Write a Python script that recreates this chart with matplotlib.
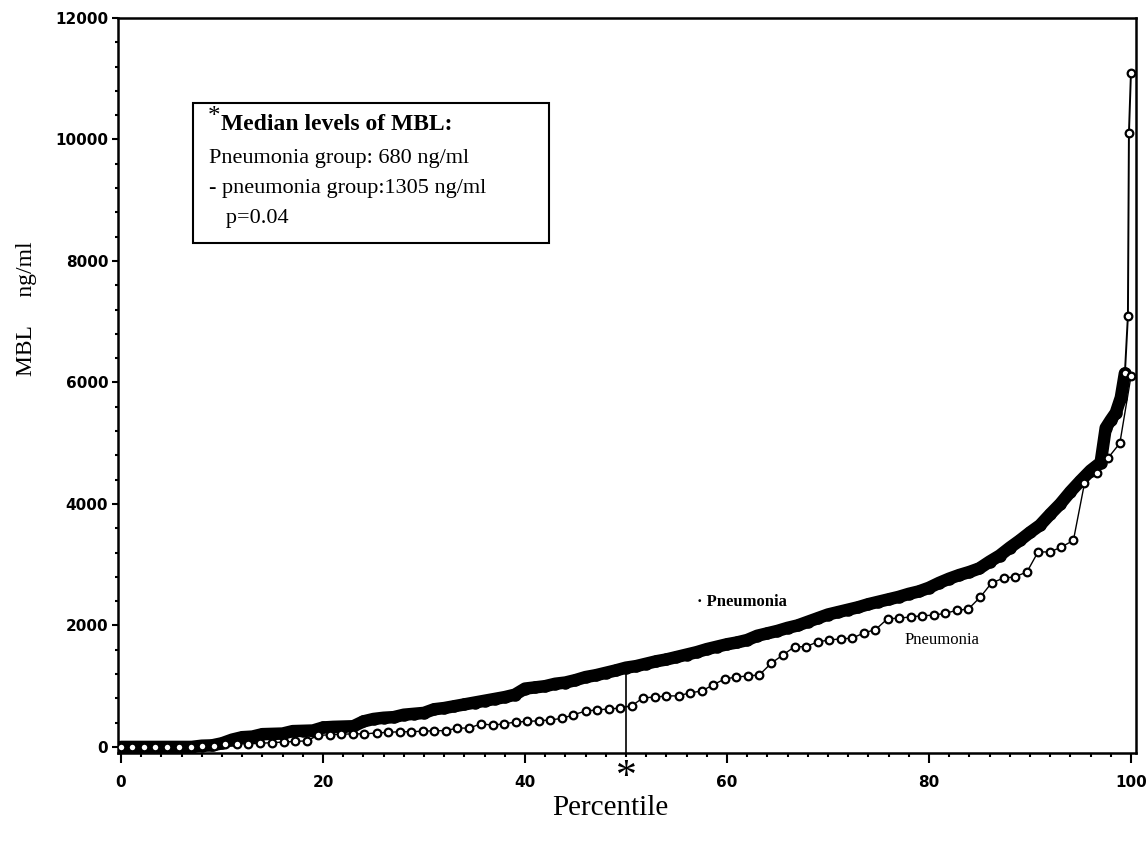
import matplotlib
matplotlib.use("Agg")
import matplotlib.pyplot as plt
from matplotlib.ticker import MultipleLocator
from matplotlib.patches import Rectangle

# ---- data ----
# "- Pneumonia" (non-pneumonia) group: percentile vs MBL ng/ml
non_pct = [0, 1, 2, 3, 4, 5, 6, 7, 8, 9, 10, 11, 12, 13, 14, 15, 16, 17, 18, 19,
           20, 21, 22, 23, 24, 25, 26, 27, 28, 29, 30, 31, 32, 33, 34, 35, 36, 37, 38, 39,
           40, 41, 42, 43, 44, 45, 46, 47, 48, 49, 50, 51, 52, 53, 54, 55, 56, 57, 58, 59,
           60, 61, 62, 63, 64, 65, 66, 67, 68, 69, 70, 71, 72, 73, 74, 75, 76, 77, 78, 79,
           80, 81, 82, 83, 84, 85, 86, 87, 88, 89, 90, 91, 92, 93, 94, 95, 96, 97, 97.5,
           98, 98.5, 99, 99.4, 99.7, 99.8, 100]
non_mbl = [0, 0, 0, 0, 0, 0, 0, 0, 20, 25, 60, 120, 160, 170, 210, 215, 220, 260, 265, 270,
           320, 330, 335, 340, 420, 460, 480, 490, 530, 545, 560, 620, 640, 670, 700, 730, 760, 790, 820, 860,
           960, 980, 1000, 1040, 1060, 1100, 1150, 1180, 1220, 1260, 1305, 1330, 1370, 1410, 1440, 1480, 1520, 1560, 1610, 1650,
           1690, 1720, 1760, 1830, 1870, 1910, 1960, 2000, 2060, 2120, 2180, 2220, 2260, 2300, 2350, 2390, 2430, 2470, 2520, 2560,
           2620, 2700, 2770, 2830, 2880, 2940, 3050, 3150, 3280, 3400, 3530, 3650, 3830, 4000, 4200, 4380, 4550, 4680, 5250,
           5380, 5500, 5750, 6150, 7100, 10100, 11100]

# "Pneumonia" group
pn_pct = [0, 1.1, 2.3, 3.4, 4.6, 5.7, 6.9, 8.0, 9.2, 10.3, 11.5, 12.6, 13.8, 14.9, 16.1, 17.2, 18.4, 19.5,
          20.7, 21.8, 23.0, 24.1, 25.3, 26.4, 27.6, 28.7, 29.9, 31.0, 32.2, 33.3, 34.5, 35.6, 36.8, 37.9,
          39.1, 40.2, 41.4, 42.5, 43.7, 44.8, 46.0, 47.1, 48.3, 49.4, 50.6, 51.7, 52.9, 54.0, 55.2, 56.3,
          57.5, 58.6, 59.8, 60.9, 62.1, 63.2, 64.4, 65.5, 66.7, 67.8, 69.0, 70.1, 71.3, 72.4, 73.6, 74.7,
          75.9, 77.0, 78.2, 79.3, 80.5, 81.6, 82.8, 83.9, 85.1, 86.2, 87.4, 88.5, 89.7, 90.8, 92.0, 93.1,
          94.3, 95.4, 96.6, 97.7, 98.9, 100]
pn_mbl = [0, 0, 0, 0, 0, 0, 0, 10, 20, 40, 50, 50, 60, 70, 80, 90, 100, 190,
          200, 210, 215, 215, 230, 240, 250, 250, 260, 265, 270, 310, 310, 380, 360, 380,
          410, 420, 430, 445, 470, 530, 590, 610, 625, 640, 680, 810, 820, 840, 840, 890,
          920, 1020, 1120, 1150, 1170, 1185, 1380, 1510, 1650, 1650, 1730, 1760, 1780, 1790, 1880, 1930,
          2110, 2120, 2140, 2160, 2170, 2200, 2250, 2270, 2470, 2700, 2780, 2800, 2880, 3210, 3210, 3290,
          3400, 4340, 4510, 4750, 5000, 6100]

median_pct = 50
median_non = 1305

x_ticks = [0, 20, 40, 60, 80, 100]
y_ticks = [0, 2000, 4000, 6000, 8000, 10000, 12000]

legend_title = "Median levels of MBL:"
legend_lines = ["Pneumonia group: 680 ng/ml",
                "- pneumonia group:1305 ng/ml",
                "   p=0.04"]

SERIF = ["Liberation Serif", "DejaVu Serif"]
SANS_B = ["DejaVu Sans"]

fig = plt.figure(figsize=(11.48, 8.47), dpi=100)
ax = fig.add_axes([118/1148, 1-753/847, (1136-118)/1148, (753-18)/847])

# dense non-pneumonia group: overlapping markers form a thick band
n_dense = 103  # points up to 6150 ng/ml are densely packed
ax.plot(non_pct[:n_dense], non_mbl[:n_dense], color="black", lw=9,
        solid_capstyle="round", solid_joinstyle="round", marker="o", ms=8,
        mfc="black", mec="black", zorder=3)
ax.plot(non_pct[n_dense-1:], non_mbl[n_dense-1:], color="black", lw=1.4, marker="o", ms=5.5,
        mfc="white", mec="black", mew=1.6, zorder=3)

ax.plot(pn_pct, pn_mbl, color="black", lw=1.0, marker="o", ms=5.5,
        mfc="white", mec="black", mew=1.6, zorder=4)

# median reference line
ax.plot([median_pct, median_pct], [-100, median_non], color="black", lw=1.2, zorder=2)

ax.set_xlim(-0.3, 100.5)
ax.set_ylim(-100, 12000)
ax.set_xticks(x_ticks)
ax.set_yticks(y_ticks)
ax.xaxis.set_minor_locator(MultipleLocator(2))
ax.yaxis.set_minor_locator(MultipleLocator(400))
ax.tick_params(axis="x", which="major", direction="out", length=7, width=1.5, pad=9)
ax.tick_params(axis="x", which="minor", direction="out", length=3, width=1.5)
ax.tick_params(axis="y", which="major", direction="out", length=4, width=1.5, pad=3)
ax.tick_params(axis="y", which="minor", direction="out", length=2, width=1.5)
for lab in ax.get_xticklabels() + ax.get_yticklabels():
    lab.set_fontfamily(SANS_B)
    lab.set_fontweight("bold")
    lab.set_fontsize(11)
for sp in ax.spines.values():
    sp.set_linewidth(1.8)

# star below axis at median
ax.text(median_pct, -0.008, "*", transform=ax.get_xaxis_transform(), ha="center", va="top",
        fontsize=30, family=SERIF, clip_on=False)

# axis labels
ax.set_xlabel("Percentile", family=SERIF, fontsize=21)
ax.xaxis.set_label_coords(0.484, -0.075)
ax.set_ylabel("MBL     ng/ml", family=SERIF, fontsize=17)
ax.yaxis.set_label_coords(-0.09, 0.605)
ax.yaxis.label.set_va("center")
ax.xaxis.label.set_va("center")

# curve labels
ax.text(57.0, 2380, "· Pneumonia", family=SERIF, fontweight="bold", fontsize=12,
        ha="left", va="center")
ax.text(77.6, 1760, "Pneumonia", family=SERIF, fontsize=12, ha="left", va="center")

# legend box
bx0, bx1 = (193-118)/1018, (549-118)/1018
by0, by1 = (753-243)/735, (753-103)/735
ax.add_patch(Rectangle((bx0, by0), bx1-bx0, by1-by0, transform=ax.transAxes,
                       fill=False, ec="black", lw=1.5, zorder=5))
lx = (208-118)/1018
ax.text(lx, (753-106)/735, "*", transform=ax.transAxes, family=SERIF,
        fontsize=18, ha="left", va="top")
ax.text((221-118)/1018, (753-124)/735, legend_title, transform=ax.transAxes, family=SERIF,
        fontweight="bold", fontsize=17, ha="left", va="center")
for i, t in enumerate(legend_lines):
    ax.text((209-118)/1018, (753-(159+30*i))/735, t, transform=ax.transAxes, family=SERIF,
            fontsize=16, ha="left", va="center")

fig.savefig("out.png", dpi=100)
